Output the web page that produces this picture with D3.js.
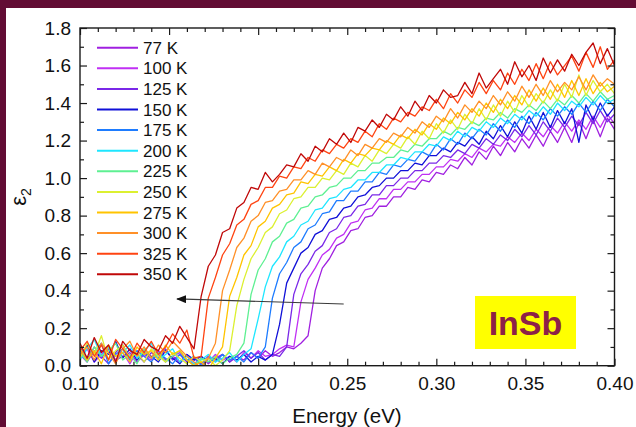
<!DOCTYPE html>
<html lang="en">
<head>
<meta charset="UTF-8">
<title>InSb epsilon 2</title>
<script src="https://d3js.org/d3.v7.min.js"></script>
<style>
  body { margin: 0; background: #620c34; }
  svg { display: block; font-family: "Liberation Sans", Arial, sans-serif; }
  .curve { fill: none; stroke-width: 1.3; stroke-linejoin: round; }
  .frame { fill: none; stroke: #1a1a1a; stroke-width: 1.4; }
  .axis line { stroke: #1a1a1a; stroke-width: 1.2; }
  .axis text { fill: #111; }
</style>
</head>
<body>
<script>
// data
var temps = ["77 K", "100 K", "125 K", "150 K", "175 K", "200 K",
             "225 K", "250 K", "275 K", "300 K", "325 K", "350 K"];
var colors = ["#a020e0", "#c030f4", "#7a28e8", "#1010d8", "#1e7cff", "#1ee6ff",
              "#5ef092", "#dcf030", "#ffc400", "#ff9028", "#ff4412", "#c00808"];
var xTicks = [0.10, 0.15, 0.20, 0.25, 0.30, 0.35, 0.40];
var yTicks = [0.0, 0.2, 0.4, 0.6, 0.8, 1.0, 1.2, 1.4, 1.6, 1.8];

var energy = [0.100,0.104,0.108,0.112,0.116,0.120,0.124,0.128,0.132,0.136,
              0.140,0.144,0.148,0.152,0.156,0.160,0.164,0.168,0.172,0.176,
              0.180,0.184,0.188,0.192,0.196,0.200,0.204,0.208,0.212,0.216,
              0.220,0.224,0.228,0.232,0.236,0.240,0.244,0.248,0.252,0.256,
              0.260,0.264,0.268,0.272,0.276,0.280,0.284,0.288,0.292,0.296,
              0.300,0.304,0.308,0.312,0.316,0.320,0.324,0.328,0.332,0.336,
              0.340,0.344,0.348,0.352,0.356,0.360,0.364,0.368,0.372,0.376,
              0.380,0.384,0.388,0.392,0.396,0.400];

var s77 = [0.06,0.02,0.08,0.04,0.09,0.03,0.05,0.07,0.02,0.06,
           0.04,0.08,0.03,0.05,0.02,0.06,0.03,0.05,0.01,0.04,
           0.06,0.02,0.05,0.03,0.07,0.04,0.08,0.05,0.07,0.10,
           0.09,0.12,0.16,0.40,0.52,0.57,0.64,0.66,0.72,0.73,
           0.79,0.80,0.85,0.85,0.90,0.90,0.95,0.94,0.99,0.98,
           1.03,1.02,1.07,1.05,1.11,1.07,1.14,1.10,1.17,1.12,
           1.19,1.14,1.21,1.16,1.23,1.17,1.25,1.19,1.27,1.19,
           1.30,1.21,1.31,1.22,1.32,1.26];
var s100 = [0.04,0.09,0.02,0.06,0.10,0.03,0.07,0.01,0.08,0.05,
            0.03,0.06,0.02,0.05,0.07,0.03,0.01,0.04,0.02,0.06,
            0.03,0.05,0.02,0.07,0.04,0.08,0.05,0.06,0.09,0.11,
            0.10,0.34,0.46,0.52,0.59,0.62,0.68,0.70,0.76,0.77,
            0.83,0.84,0.89,0.89,0.94,0.94,0.98,0.98,1.02,1.02,
            1.06,1.06,1.10,1.09,1.13,1.11,1.16,1.14,1.18,1.17,
            1.22,1.19,1.24,1.20,1.26,1.22,1.28,1.24,1.30,1.25,
            1.31,1.26,1.33,1.27,1.34,1.29];
var s125 = [0.08,0.03,0.10,0.05,0.01,0.07,0.11,0.04,0.06,0.02,
            0.07,0.04,0.09,0.03,0.06,0.02,0.04,0.01,0.05,0.03,
            0.06,0.02,0.05,0.08,0.04,0.07,0.03,0.06,0.05,0.10,
            0.38,0.49,0.54,0.61,0.64,0.71,0.73,0.79,0.80,0.85,
            0.86,0.91,0.91,0.96,0.96,1.00,1.00,1.04,1.04,1.08,
            1.08,1.12,1.11,1.15,1.13,1.18,1.16,1.21,1.18,1.23,
            1.20,1.26,1.22,1.28,1.23,1.30,1.25,1.32,1.27,1.33,
            1.28,1.35,1.29,1.36,1.30,1.34];
var s150 = [0.05,0.11,0.02,0.08,0.06,0.13,0.04,0.09,0.03,0.07,
            0.05,0.02,0.08,0.04,0.01,0.06,0.03,0.05,0.02,0.04,
            0.01,0.05,0.03,0.06,0.02,0.05,0.03,0.06,0.22,0.44,
            0.52,0.60,0.63,0.70,0.72,0.78,0.79,0.84,0.85,0.90,
            0.91,0.95,0.96,1.00,1.00,1.04,1.04,1.08,1.07,1.12,
            1.12,1.16,1.14,1.19,1.17,1.22,1.18,1.25,1.21,1.28,
            1.22,1.30,1.24,1.33,1.26,1.35,1.27,1.36,1.29,1.37,
            1.19,1.39,1.31,1.40,1.33,1.38];
var s175 = [0.10,0.04,0.07,0.12,0.01,0.06,0.09,0.03,0.08,0.05,
            0.02,0.07,0.04,0.01,0.06,0.03,0.05,0.00,0.04,0.02,
            0.06,0.03,0.05,0.02,0.07,0.04,0.10,0.36,0.49,0.55,
            0.63,0.66,0.73,0.75,0.81,0.82,0.88,0.88,0.93,0.93,
            0.98,0.98,1.03,1.02,1.07,1.06,1.10,1.09,1.14,1.12,
            1.18,1.15,1.21,1.18,1.24,1.21,1.26,1.23,1.29,1.25,
            1.31,1.27,1.33,1.29,1.35,1.31,1.37,1.33,1.38,1.34,
            1.40,1.35,1.41,1.36,1.42,1.38];
var s200 = [0.03,0.09,0.14,0.05,0.10,0.02,0.07,0.11,0.04,0.08,
            0.12,0.03,0.06,0.09,0.02,0.05,0.01,0.03,0.06,0.02,
            0.04,0.07,0.02,0.06,0.09,0.25,0.42,0.53,0.58,0.66,
            0.69,0.75,0.77,0.83,0.84,0.89,0.90,0.94,0.95,0.99,
            0.99,1.03,1.03,1.07,1.07,1.11,1.10,1.14,1.14,1.18,
            1.17,1.22,1.20,1.25,1.22,1.27,1.25,1.30,1.27,1.32,
            1.29,1.34,1.31,1.36,1.33,1.38,1.34,1.40,1.36,1.41,
            1.38,1.43,1.39,1.44,1.40,1.42];
var s225 = [0.07,0.02,0.10,0.05,0.08,0.12,0.03,0.06,0.01,0.09,
            0.04,0.07,0.02,0.05,0.08,0.03,0.00,0.04,0.02,0.05,
            0.01,0.04,0.06,0.12,0.38,0.51,0.57,0.66,0.69,0.76,
            0.78,0.84,0.85,0.90,0.91,0.95,0.96,1.00,1.00,1.04,
            1.04,1.08,1.08,1.11,1.11,1.15,1.14,1.18,1.17,1.21,
            1.21,1.25,1.23,1.27,1.26,1.30,1.28,1.32,1.31,1.35,
            1.32,1.37,1.35,1.39,1.36,1.41,1.37,1.42,1.39,1.44,
            1.40,1.45,1.41,1.46,1.42,1.44];
var s250 = [0.04,0.12,0.06,0.16,0.03,0.08,0.11,0.04,0.07,0.02,
            0.09,0.05,0.02,0.07,0.04,0.01,0.05,0.02,0.04,0.00,
            0.03,0.08,0.32,0.46,0.57,0.63,0.71,0.74,0.81,0.83,
            0.89,0.90,0.95,0.95,1.00,0.99,1.04,1.02,1.08,1.06,
            1.12,1.09,1.15,1.13,1.18,1.16,1.22,1.18,1.25,1.21,
            1.29,1.24,1.31,1.26,1.34,1.29,1.37,1.31,1.39,1.33,
            1.41,1.35,1.44,1.38,1.45,1.40,1.47,1.41,1.50,1.43,
            1.55,1.44,1.52,1.46,1.50,1.45];
var s275 = [0.09,0.03,0.08,0.01,0.11,0.05,0.07,0.02,0.10,0.06,
            0.08,0.03,0.11,0.06,0.08,0.03,0.00,0.02,-0.02,0.04,
            0.10,0.37,0.47,0.59,0.64,0.74,0.77,0.84,0.86,0.91,
            0.92,0.98,0.97,1.02,1.01,1.06,1.04,1.10,1.08,1.13,
            1.12,1.16,1.15,1.20,1.18,1.23,1.21,1.26,1.23,1.29,
            1.26,1.32,1.29,1.35,1.31,1.37,1.33,1.40,1.35,1.42,
            1.37,1.44,1.39,1.47,1.41,1.48,1.42,1.50,1.43,1.52,
            1.44,1.53,1.45,1.51,1.46,1.49];
var s300 = [0.06,0.10,0.03,0.12,0.07,0.01,0.09,0.13,0.05,0.10,
            0.04,0.11,0.07,0.13,0.09,0.05,0.02,-0.01,0.04,0.12,
            0.40,0.51,0.63,0.68,0.77,0.80,0.87,0.88,0.93,0.94,
            0.99,0.99,1.04,1.02,1.08,1.06,1.11,1.09,1.15,1.12,
            1.18,1.16,1.21,1.19,1.24,1.22,1.27,1.24,1.30,1.27,
            1.33,1.30,1.37,1.32,1.39,1.35,1.41,1.37,1.44,1.39,
            1.46,1.41,1.49,1.43,1.50,1.44,1.52,1.46,1.51,1.47,
            1.54,1.47,1.55,1.49,1.53,1.50];
var s325 = [0.08,0.13,0.05,0.11,0.03,0.14,0.09,0.04,0.12,0.07,
            0.13,0.06,0.10,0.17,0.12,0.19,0.04,0.05,0.36,0.47,
            0.59,0.65,0.75,0.78,0.86,0.88,0.95,0.95,1.01,1.00,
            1.06,1.05,1.11,1.09,1.15,1.13,1.18,1.16,1.21,1.19,
            1.25,1.22,1.29,1.26,1.32,1.30,1.35,1.33,1.38,1.36,
            1.42,1.37,1.45,1.40,1.47,1.43,1.51,1.45,1.52,1.47,
            1.56,1.50,1.58,1.52,1.61,1.53,1.62,1.55,1.60,1.65,
            1.57,1.67,1.59,1.70,1.58,1.63];
var s350 = [0.12,0.04,0.15,0.07,0.11,0.02,0.13,0.08,0.06,0.14,
            0.10,0.08,0.16,0.12,0.21,0.15,0.09,0.37,0.53,0.59,
            0.71,0.73,0.84,0.87,0.95,0.94,1.03,0.98,1.02,1.07,
            1.06,1.13,1.09,1.17,1.14,1.21,1.18,1.24,1.19,1.27,
            1.25,1.31,1.27,1.34,1.31,1.38,1.33,1.41,1.36,1.44,
            1.40,1.47,1.43,1.44,1.51,1.45,1.56,1.48,1.53,1.58,
            1.50,1.62,1.54,1.60,1.52,1.64,1.56,1.63,1.57,1.66,
            1.60,1.67,1.72,1.61,1.69,1.60];
var series = [s77, s100, s125, s150, s175, s200, s225, s250, s275, s300, s325, s350];

// arrow annotation, in data units: [energy, eps2]
var arrowFrom = [0.248, 0.329];
var arrowTo = [0.1545, 0.356];

var W = 636, H = 427;
var svg = d3.select("body").append("svg").attr("width", W).attr("height", H);

svg.append("rect").attr("width", W).attr("height", H).attr("fill", "#620c34");
svg.append("rect").attr("x", 6).attr("y", 8).attr("width", W - 6).attr("height", H - 8).attr("fill", "#fff");

var x = d3.scaleLinear().domain([0.10, 0.40]).range([80, 614.5]);
var y = d3.scaleLinear().domain([0, 1.8]).range([365.7, 28]);

svg.append("clipPath").attr("id", "plotclip")
   .append("rect").attr("x", 80).attr("y", 28).attr("width", 534.5).attr("height", 337.7);

var line = d3.line()
    .x(function(d, i){ return x(energy[i]); })
    .y(function(d){ return y(d); });

svg.append("g").attr("clip-path", "url(#plotclip)")
   .selectAll("path").data(series).enter().append("path")
   .attr("class", "curve")
   .attr("stroke", function(d, i){ return colors[i]; })
   .attr("d", line);

// minor tick positions
var xMinor = d3.range(0.10, 0.4001, 0.01).filter(function(v){ return Math.round(v * 100) % 5 != 0; });
var yMinor = d3.range(0.1, 1.8, 0.2);

function styleAxis(g) {
  g.select(".domain").remove();
  g.attr("font-family", null).attr("font-size", null);
  g.selectAll("text").attr("font-size", 19);
}

svg.append("g").attr("class", "axis").attr("transform", "translate(0,365.7)")
   .call(d3.axisBottom(x).tickValues(xTicks).tickSize(-7).tickPadding(11).tickFormat(d3.format(".2f")))
   .call(styleAxis);
svg.append("g").attr("class", "axis").attr("transform", "translate(0,365.7)")
   .call(d3.axisBottom(x).tickValues(xMinor).tickSize(-4).tickFormat(""))
   .call(styleAxis);
svg.append("g").attr("class", "axis").attr("transform", "translate(0,28)")
   .call(d3.axisTop(x).tickValues(xTicks).tickSize(-7).tickFormat(""))
   .call(styleAxis);
svg.append("g").attr("class", "axis").attr("transform", "translate(0,28)")
   .call(d3.axisTop(x).tickValues(xMinor).tickSize(-4).tickFormat(""))
   .call(styleAxis);

svg.append("g").attr("class", "axis").attr("transform", "translate(80,0)")
   .call(d3.axisLeft(y).tickValues(yTicks).tickSize(-7).tickPadding(9).tickFormat(d3.format(".1f")))
   .call(styleAxis);
svg.append("g").attr("class", "axis").attr("transform", "translate(80,0)")
   .call(d3.axisLeft(y).tickValues(yMinor).tickSize(-4).tickFormat(""))
   .call(styleAxis);
svg.append("g").attr("class", "axis").attr("transform", "translate(614.5,0)")
   .call(d3.axisRight(y).tickValues(yTicks).tickSize(-7).tickFormat(""))
   .call(styleAxis);
svg.append("g").attr("class", "axis").attr("transform", "translate(614.5,0)")
   .call(d3.axisRight(y).tickValues(yMinor).tickSize(-4).tickFormat(""))
   .call(styleAxis);

svg.append("rect").attr("class", "frame")
   .attr("x", 80).attr("y", 28).attr("width", 534.5).attr("height", 337.7);

// arrow
svg.append("defs").append("marker")
   .attr("id", "head").attr("markerUnits", "userSpaceOnUse")
   .attr("markerWidth", 10).attr("markerHeight", 8)
   .attr("refX", 9).attr("refY", 4).attr("orient", "auto")
   .append("path").attr("d", "M0,0 L10,4 L0,8 Z").attr("fill", "#111");
svg.append("line")
   .attr("x1", x(arrowFrom[0])).attr("y1", y(arrowFrom[1]))
   .attr("x2", x(arrowTo[0])).attr("y2", y(arrowTo[1]))
   .attr("stroke", "#3a3a3a").attr("stroke-width", 1.2)
   .attr("marker-end", "url(#head)");

// legend
var legend = svg.append("g").selectAll("g").data(temps).enter().append("g")
   .attr("transform", function(d, i){ return "translate(0," + (47.7 + i * 20.6) + ")"; });
legend.append("line").attr("x1", 97).attr("x2", 138)
   .attr("stroke", function(d, i){ return colors[i]; }).attr("stroke-width", 2);
legend.append("text").attr("x", 143).attr("y", 6)
   .attr("font-size", 17).attr("fill", "#111").text(function(d){ return d; });

// InSb label
svg.append("rect").attr("x", 475).attr("y", 296).attr("width", 101).attr("height", 53).attr("fill", "#ffff00");
svg.append("text").attr("x", 525.5).attr("y", 335).attr("text-anchor", "middle")
   .attr("font-size", 34).attr("font-weight", "bold").attr("fill", "#8c2148").text("InSb");

// axis titles
svg.append("text").attr("x", 347).attr("y", 423).attr("text-anchor", "middle")
   .attr("font-size", 20.5).attr("fill", "#111").text("Energy (eV)");
var yt = svg.append("text").attr("transform", "translate(26,197) rotate(-90)")
   .attr("text-anchor", "middle").attr("fill", "#111");
yt.append("tspan").attr("font-size", 22).text("ε");
yt.append("tspan").attr("font-size", 14).attr("dy", 5).text("2");
</script>
</body>
</html>
